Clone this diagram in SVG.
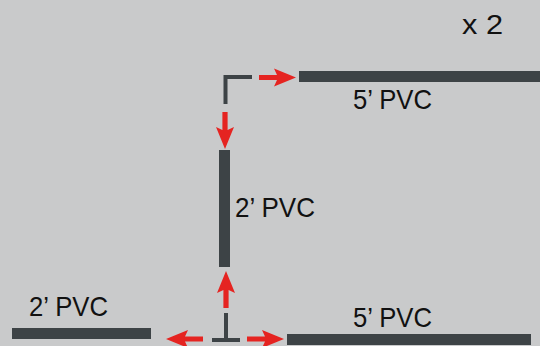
<svg xmlns="http://www.w3.org/2000/svg" xmlns:xlink="http://www.w3.org/1999/xlink" width="540" height="346" viewBox="0 0 540 346">
<style>
.pipe{fill:#3d4346}
.fit{fill:none;stroke:#3d4346;stroke-width:4;stroke-linejoin:miter}
.lbl{font-family:"Liberation Sans",Arial,sans-serif;font-size:28px;fill:#111}
.arr{fill:#e52421}
</style>
<defs>
<path id="ar" d="M0,-2.6 H18 L15,-9 L37,0 L15,9 L18,2.6 H0 Z"/>
</defs>
<rect width="540" height="346" fill="#c9cacb"/>
<text class="lbl" x="462" y="34" textLength="41" lengthAdjust="spacingAndGlyphs">x 2</text>
<g id="pipe-top-5ft">
<rect class="pipe" x="299" y="71" width="241" height="11"/>
<text class="lbl" x="353" y="109" textLength="79" lengthAdjust="spacingAndGlyphs">5’ PVC</text>
</g>
<g id="pipe-vertical-2ft">
<rect class="pipe" x="219" y="150" width="11" height="117"/>
<text class="lbl" x="235" y="217" textLength="80" lengthAdjust="spacingAndGlyphs">2’ PVC</text>
</g>
<g id="pipe-bottom-5ft">
<rect class="pipe" x="287" y="334" width="244" height="11"/>
<text class="lbl" x="353" y="327" textLength="79" lengthAdjust="spacingAndGlyphs">5’ PVC</text>
</g>
<g id="pipe-bottom-2ft">
<rect class="pipe" x="12" y="328" width="139" height="11"/>
<text class="lbl" x="29" y="316" textLength="79" lengthAdjust="spacingAndGlyphs">2’ PVC</text>
</g>
<g id="elbow">
<path class="fit" d="M252,77 H225.5 V104"/>
</g>
<g id="tee">
<path class="fit" d="M226,313 V340 M212,340 H240"/>
</g>
<g id="connectors" class="arr">
<use xlink:href="#ar" transform="translate(259,77.5)"/>
<use xlink:href="#ar" transform="translate(225,112) rotate(90)"/>
<use xlink:href="#ar" transform="translate(226,308) rotate(-90)"/>
<use xlink:href="#ar" transform="translate(203,339) rotate(180)"/>
<use xlink:href="#ar" transform="translate(247,339)"/>
</g>
</svg>
